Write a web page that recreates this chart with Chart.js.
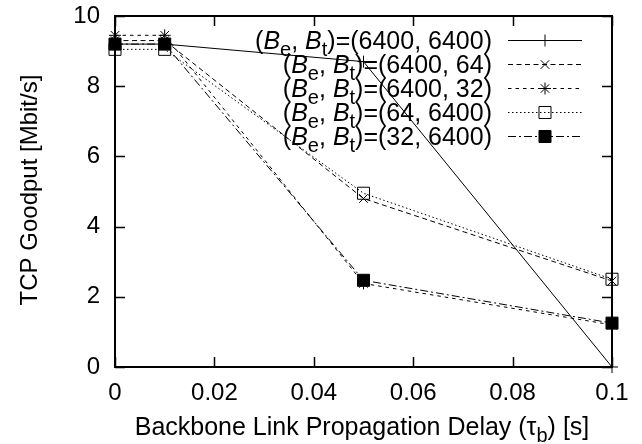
<!DOCTYPE html>
<html lang="en">
<head>
<meta charset="UTF-8">
<title>TCP Goodput vs Backbone Delay</title>
<style>
  html, body { margin: 0; padding: 0; background: #fff; }
</style>
</head>
<body>
<canvas id="myChart" width="642" height="444"></canvas>
<script src="https://cdn.jsdelivr.net/npm/chart.js"></script>
<script>
// backbone link propagation delay [s]
var delays = [0, 0.01, 0.05, 0.1];

// TCP goodput [Mbit/s] per (Be, Bt) buffer setting
var goodput_6400_6400 = [9.2, 9.2, 8.7, 0];
var goodput_6400_64 = [9.3, 9.3, 4.8, 2.45];
var goodput_6400_32 = [9.45, 9.45, 2.38, 1.2];
var goodput_64_6400 = [9.05, 9.05, 4.95, 2.5];
var goodput_32_6400 = [9.2, 9.2, 2.47, 1.25];

var seriesNames = ['6400, 6400', '6400, 64', '6400, 32', '64, 6400', '32, 6400'];
var xTicks = [0, 0.02, 0.04, 0.06, 0.08, 0.1];
var yTicks = [0, 2, 4, 6, 8, 10];

var FONT = "'Liberation Sans', Arial, sans-serif";

var styles = [
    { dash: [], point: 'cross', radius: 6, fill: 'rgba(0,0,0,0)' },
    { dash: [5, 3.5], point: 'crossRot', radius: 6, fill: 'rgba(0,0,0,0)' },
    { dash: [3.5, 4], point: 'star', radius: 6, fill: 'rgba(0,0,0,0)' },
    { dash: [1.5, 2.5], point: 'rect', radius: 8.5, fill: 'rgba(0,0,0,0)' },
    { dash: [8, 3, 2, 3], point: 'rect', radius: 8.5, fill: '#000' }
];

var seriesData = [goodput_6400_6400, goodput_6400_64, goodput_6400_32, goodput_64_6400, goodput_32_6400];

function toPoints(values) {
    return delays.map(function (d, i) { return { x: d, y: values[i] }; });
}

var datasets = seriesData.map(function (vals, i) {
    var s = styles[i];
    return {
        label: '(Be, Bt)=(' + seriesNames[i] + ')',
        data: toPoints(vals),
        borderColor: '#000',
        borderWidth: 1,
        borderDash: s.dash,
        pointStyle: s.point,
        pointRadius: s.radius,
        pointHoverRadius: s.radius,
        pointBorderColor: '#000',
        pointBorderWidth: 1,
        pointBackgroundColor: s.fill,
        backgroundColor: s.fill,
        tension: 0,
        fill: false,
        clip: false
    };
});

// draw text pieces: {t, it (italic), sub (subscript)}
function drawRich(ctx, parts, x, y, align, size, subSize) {
    var widths = parts.map(function (p) {
        ctx.font = (p.it ? 'italic ' : '') + (p.sub ? subSize : size) + 'px ' + FONT;
        return ctx.measureText(p.t).width;
    });
    var total = widths.reduce(function (a, b) { return a + b; }, 0);
    var cx = align === 'right' ? x - total : (align === 'center' ? x - total / 2 : x);
    ctx.textAlign = 'left';
    ctx.textBaseline = 'alphabetic';
    parts.forEach(function (p, i) {
        ctx.font = (p.it ? 'italic ' : '') + (p.sub ? subSize : size) + 'px ' + FONT;
        ctx.fillText(p.t, cx, y + (p.sub ? 7 : 0));
        cx += widths[i];
    });
}

var gnuplotFrame = {
    id: 'gnuplotFrame',
    afterDraw: function (chart) {
        var ctx = chart.ctx;
        var a = chart.chartArea;
        var xs = chart.scales.x, ys = chart.scales.y;
        ctx.save();
        ctx.strokeStyle = '#000';
        ctx.fillStyle = '#000';
        ctx.setLineDash([]);

        // border
        ctx.lineWidth = 2;
        ctx.strokeRect(a.left, a.top, a.right - a.left, a.bottom - a.top);

        // inward ticks on all four sides
        ctx.lineWidth = 1.5;
        ctx.beginPath();
        xTicks.forEach(function (v) {
            var px = Math.round(xs.getPixelForValue(v)) + 0.5;
            ctx.moveTo(px, a.bottom); ctx.lineTo(px, a.bottom - 10);
            ctx.moveTo(px, a.top); ctx.lineTo(px, a.top + 10);
        });
        yTicks.forEach(function (v) {
            var py = Math.round(ys.getPixelForValue(v)) + 0.5;
            ctx.moveTo(a.left, py); ctx.lineTo(a.left + 10, py);
            ctx.moveTo(a.right, py); ctx.lineTo(a.right - 10, py);
        });
        ctx.stroke();

        // axis titles
        drawRich(ctx, [
            { t: 'Backbone Link Propagation Delay (\u03C4' },
            { t: 'b', sub: true },
            { t: ') [s]' }
        ], 362, 435, 'center', 25, 20);

        ctx.save();
        ctx.translate(37, 190);
        ctx.rotate(-Math.PI / 2);
        ctx.font = '24px ' + FONT;
        ctx.textAlign = 'center';
        ctx.textBaseline = 'alphabetic';
        ctx.fillText('TCP Goodput [Mbit/s]', 0, 0);
        ctx.restore();

        // legend
        var rowY = [40, 64, 88, 112, 136];
        seriesNames.forEach(function (name, i) {
            var y = rowY[i];
            drawRich(ctx, [
                { t: '(' },
                { t: 'B', it: true },
                { t: 'e', sub: true },
                { t: ', ' },
                { t: 'B', it: true },
                { t: 't', sub: true },
                { t: ')=(' + name + ')' }
            ], 492, y + 9, 'right', 25, 20);

            var s = styles[i];
            ctx.lineWidth = 1;
            ctx.setLineDash(s.dash);
            ctx.beginPath();
            ctx.moveTo(508, y + 0.5);
            ctx.lineTo(582, y + 0.5);
            ctx.stroke();
            ctx.setLineDash([]);
            ctx.fillStyle = s.fill;
            Chart.helpers.drawPoint(ctx, {
                pointStyle: s.point, radius: s.radius, rotation: 0, borderWidth: 1
            }, 545, y + 0.5);
            ctx.fillStyle = '#000';
        });
        ctx.restore();
    }
};

var chart = new Chart('myChart', {
    type: 'line',
    data: { datasets: datasets },
    options: {
        responsive: false,
        animation: false,
        devicePixelRatio: 1,
        layout: { padding: { top: 16, right: 30, left: 0, bottom: 0 } },
        plugins: {
            legend: { display: false },
            tooltip: { enabled: false }
        },
        scales: {
            x: {
                type: 'linear',
                min: 0,
                max: 0.1,
                afterBuildTicks: function (scale) {
                    scale.ticks = xTicks.map(function (v) { return { value: v }; });
                },
                afterFit: function (scale) {
                    scale.height = 77;
                    scale.paddingLeft = 0;
                    scale.paddingRight = 0;
                },
                grid: { display: false, drawTicks: false },
                border: { display: false },
                ticks: {
                    color: '#000',
                    font: { family: FONT, size: 24 },
                    padding: 12,
                    maxRotation: 0,
                    callback: function (v) { return String(+v.toFixed(2)); }
                }
            },
            y: {
                min: 0,
                max: 10,
                afterBuildTicks: function (scale) {
                    scale.ticks = yTicks.map(function (v) { return { value: v }; });
                },
                afterFit: function (scale) {
                    scale.width = 115;
                    scale.paddingTop = 0;
                    scale.paddingBottom = 0;
                },
                grid: { display: false, drawTicks: false },
                border: { display: false },
                ticks: {
                    color: '#000',
                    font: { family: FONT, size: 24 },
                    padding: 15,
                    callback: function (v) { return String(v); }
                }
            }
        }
    },
    plugins: [gnuplotFrame]
});
</script>
</body>
</html>
